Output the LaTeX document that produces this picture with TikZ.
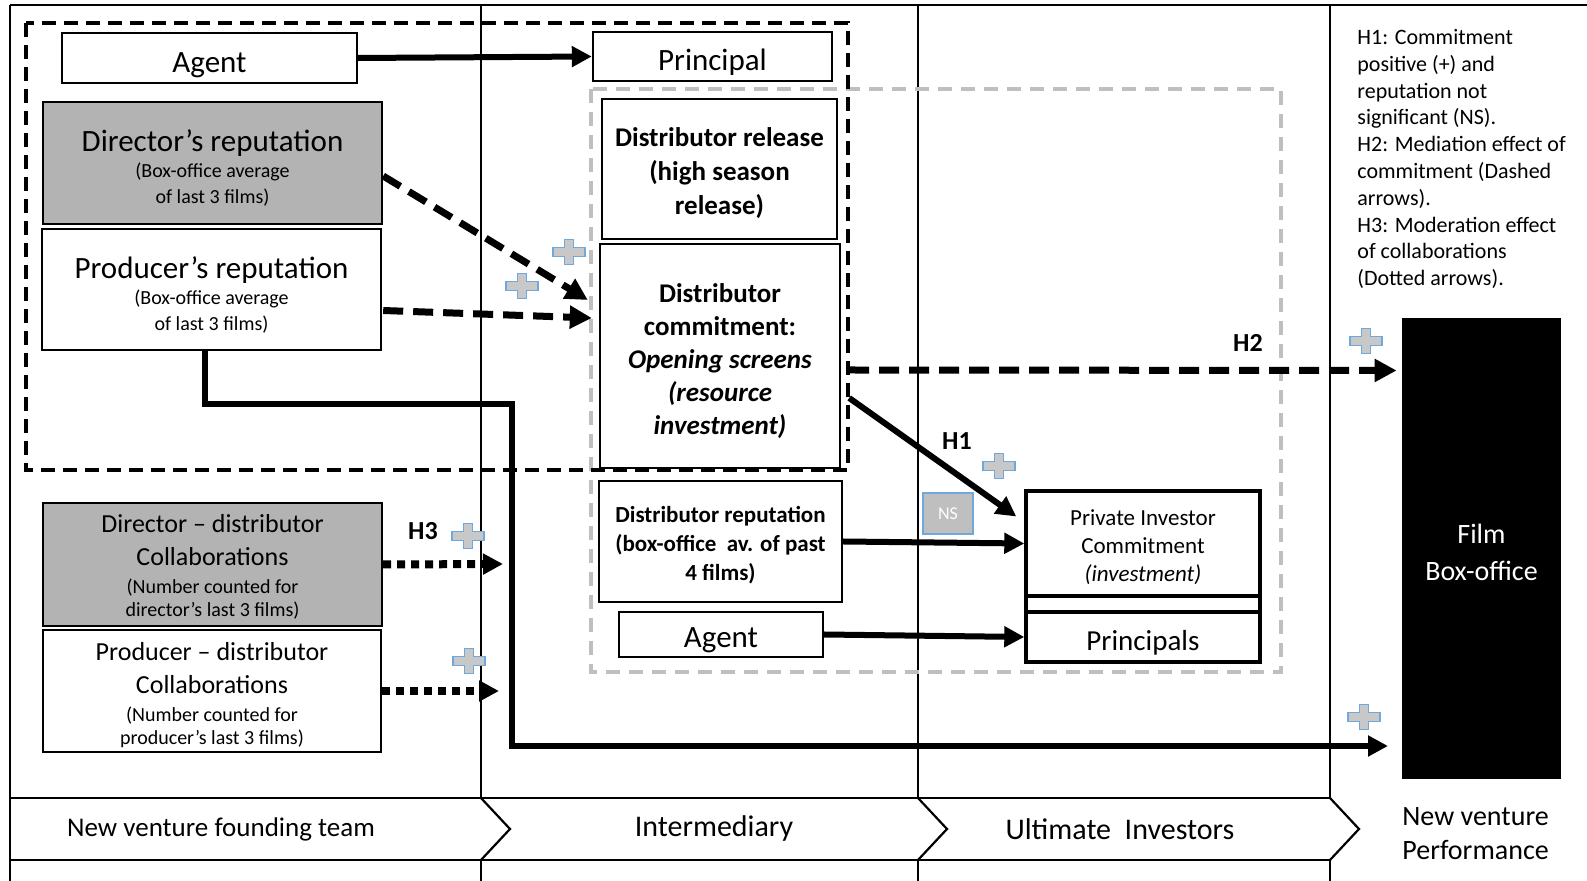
\documentclass[tikz,border=0pt]{standalone}
\usepackage{fontspec}
\setmainfont{Carlito}
\usetikzlibrary{arrows.meta,calc}
\definecolor{boxgray}{RGB}{179,179,179}
\definecolor{dgray}{RGB}{191,191,191}
\definecolor{plusfill}{RGB}{200,200,200}
\definecolor{plusline}{RGB}{111,168,220}
\newcommand\myfs[2]{\fontsize{#1}{#2}\selectfont}
\newcommand\topstrut[1]{\rule{0pt}{#1}}
\begin{document}
\begin{tikzpicture}[x=0.5pt,y=-0.5pt,
  lane/.style={line width=1.1pt},
  box/.style={draw,line width=1.2pt,inner sep=0pt,align=center},
  thickbox/.style={draw,line width=1.7pt,inner sep=0pt,align=center},
  thickarrow/.style={line width=3pt,-{Triangle[length=10pt,width=10pt]}},
  dasharrow/.style={line width=3.5pt,dash pattern=on 10pt off 5pt,-{Triangle[length=11pt,width=11pt]}},
  dotarrow/.style={line width=4pt,dash pattern=on 4pt off 3pt,-{Triangle[length=10pt,width=10pt]}},
  hlabel/.style={font=\bfseries\myfs{13}{15}},
  bandtext/.style={font=\myfs{15}{18}},
  plussign/.pic={\draw[plusline,fill=plusfill,line width=0.9pt]
     (-4.5,-12.5) -- (4.5,-12.5) -- (4.5,-4.5) -- (16,-4.5) -- (16,4.5) -- (4.5,4.5)
     -- (4.5,12.5) -- (-4.5,12.5) -- (-4.5,4.5) -- (-16,4.5) -- (-16,-4.5) -- (-4.5,-4.5) -- cycle;}
]
\useasboundingbox[fill=white] (0,0) rectangle (1587,881);

% lanes
\draw[lane] (10,5) -- (1587,5);
\draw[lane] (10,5) -- (10,881);
\foreach \xx in {481,918,1330} {
  \draw[lane] (\xx,5) -- (\xx,798);
  \draw[lane] (\xx,860) -- (\xx,881);
  \draw[lane] (\xx,798) -- (\xx+29,829) -- (\xx,860);
}
\draw[lane] (10,798) -- (1330,798);
\draw[lane] (10,860) -- (1330,860);
\node[bandtext,font=\myfs{13.5}{16}] (bandA) at (221,829) {New venture founding team};
\node[bandtext] (bandB) at (714,829) {Intermediary};
\node[bandtext] (bandC) at (1120,829) {Ultimate\ \ Investors};
\node[anchor=west,align=left,inner sep=0pt,font=\myfs{14}{17}] (bandD) at (1402,834) {New venture\\Performance};

% group frames
\draw[dgray,line width=1.75pt,dash pattern=on 7pt off 4.5pt] (591,89) rectangle (1281,672);
\draw[line width=2pt,dash pattern=on 7pt off 4pt] (26,23) rectangle (848,470);

% boxes
\node[box,minimum width=147.5pt,minimum height=25pt,font=\myfs{15.5}{19}] (agentA) at (209.5,58) {\topstrut{17pt}Agent};
\node[box,minimum width=119.5pt,minimum height=24.5pt,font=\myfs{15.5}{19}] (principal) at (712.5,56.5) {\topstrut{16.2pt}Principal};
\node[box,fill=boxgray,minimum width=169.5pt,minimum height=61pt,font=\myfs{10}{13}] (dirrep) at (212.5,163)
  {{\myfs{15.5}{19}\topstrut{15.7pt}Director’s reputation}\\(Box-office average\\of last 3 films)};
\node[box,minimum width=169.5pt,minimum height=60.5pt,font=\myfs{10}{13}] (prodrep) at (211.5,289.5)
  {{\myfs{15.5}{19}\topstrut{16.2pt}Producer’s reputation}\\(Box-office average\\of last 3 films)};
\node[box,minimum width=117.5pt,minimum height=70pt,font=\bfseries\myfs{13.5}{17}] (release) at (719.5,169)
  {\topstrut{13.7pt}Distributor release\\(high season\\release)};
\node[box,minimum width=120pt,minimum height=112pt,font=\bfseries\myfs{13.5}{16.5}] (commit) at (720,356)
  {\topstrut{14.2pt}Distributor\\commitment:\\\textit{Opening screens}\\\textit{(resource}\\\textit{investment)}};
\node[box,minimum width=121.5pt,minimum height=60.5pt,font=\bfseries\myfs{11.5}{14.5}] (distrep) at (720.5,541.5)
  {\topstrut{11.3pt}Distributor reputation\\(box-office\ \ av. of past\\4 films)};
\node[box,minimum width=102pt,minimum height=22.5pt,font=\myfs{15.5}{19}] (agentB) at (721,634.5) {\topstrut{16.1pt}Agent};
\node[thickbox,minimum width=117pt,minimum height=52.5pt,font=\myfs{11.5}{14}] (pic) at (1143,543.5)
  {\topstrut{11.3pt}Private Investor\\Commitment\\\textit{(investment)}};
\node[thickbox,minimum width=117pt,minimum height=8pt] (strip) at (1143,604) {};
\node[thickbox,minimum width=117pt,minimum height=25pt,font=\myfs{14.5}{17}] (principals) at (1143,637) {\topstrut{15.4pt}Principals};
\node[box,fill=boxgray,minimum width=169.5pt,minimum height=61.5pt,font=\myfs{10}{11.5}] (dcol) at (212.5,564.5)
  {{\myfs{13}{16}\topstrut{11.4pt}Director – distributor}\\[5pt]{\myfs{13}{16}Collaborations}\\[2.7pt](Number counted for\\director’s last 3 films)};
\node[box,minimum width=169pt,minimum height=61pt,font=\myfs{10}{11.5}] (pcol) at (212,691)
  {{\myfs{13}{16}\topstrut{13.4pt}Producer – distributor}\\[5pt]{\myfs{13}{16}Collaborations}\\[2.7pt](Number counted for\\producer’s last 3 films)};
\node[fill=black,inner sep=0pt,minimum width=79.5pt,minimum height=230.5pt,text=white,align=center,font=\myfs{14}{18.5}] (film) at (1481.5,548.5)
  {\topstrut{14pt}Film\\Box-office};
\node[draw=plusline,line width=1pt,fill=dgray,inner sep=0pt,minimum width=25pt,minimum height=20.5pt,text=white,font=\myfs{9}{11}] (ns) at (948,513.5) {NS};

% legend
\node[anchor=north west,align=left,inner sep=0pt,font=\myfs{11}{13.4}] (legend) at (1357,29)
  {H1: Commitment\\positive (+) and\\reputation not\\significant (NS).\\H2: Mediation effect of\\commitment (Dashed\\arrows).\\H3: Moderation effect\\of collaborations\\(Dotted arrows).};

% hypothesis labels
\node[hlabel] (h1) at (957,441) {H1};
\node[hlabel] (h2) at (1248,343) {H2};
\node[hlabel] (h3) at (423,531) {H3};

% coordinates
\coordinate (bendA) at (205,404);
\coordinate (bendB) at (512,404);
\coordinate (bendC) at (512,746);
\coordinate (endbot) at (1388,746);
\coordinate (modA) at (503,564);
\coordinate (modB) at (499,691);

% connectors
\draw[thickarrow] (agentA.east) -- (principal.west);
\draw[dasharrow] ($(dirrep.east)+(0,13)$) -- ($(commit.west)+(-11,-56)$);
\draw[dasharrow] ($(prodrep.east)+(1,21)$) -- ($(commit.west)+(-7,-38)$);
\draw[dasharrow] ($(commit.east)+(8,14)$) -- ($(film.west)+(-5,-178)$);
\draw[thickarrow] ($(commit.east)+(8,42)$) -- ($(pic.west)+(-8,-27)$);
\draw[thickarrow] (distrep.east) -- (pic.west);
\draw[thickarrow] (agentB.east) -- (principals.west);
\draw[thickarrow] (prodrep.south -| bendA) -- (bendA) -- (bendB) -- (bendC) -- (endbot);
\draw[dotarrow] (dcol.east) -- (modA);
\draw[dotarrow] (pcol.east) -- (modB);

% plus signs
\pic at (569,252) {plussign};
\pic at (522,286) {plussign};
\pic at (468,536) {plussign};
\pic at (469,661) {plussign};
\pic at (999,466) {plussign};
\pic at (1366,341) {plussign};
\pic at (1364,717) {plussign};
\end{tikzpicture}
\end{document}
